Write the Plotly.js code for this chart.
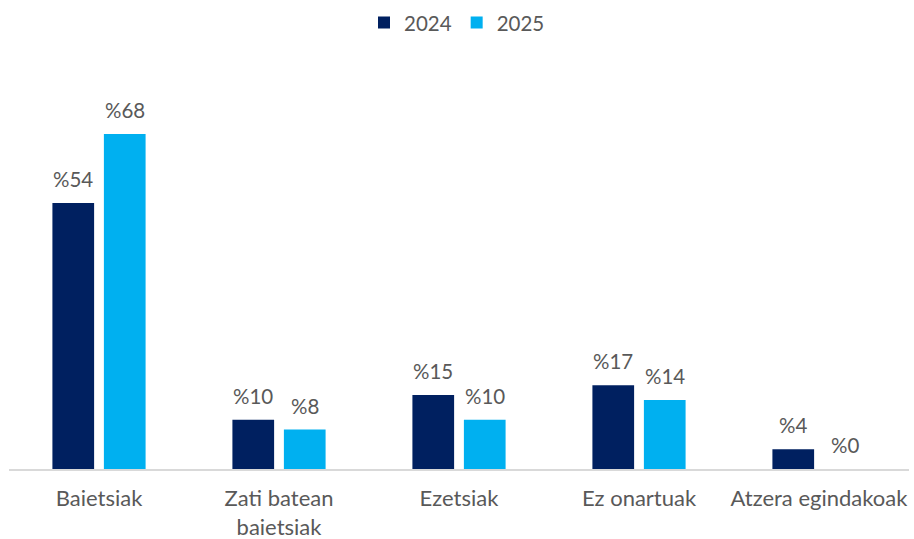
<!DOCTYPE html>
<html>
<head>
<meta charset="utf-8">
<script src="https://cdn.plot.ly/plotly-3.0.1.min.js"></script>
<style>html,body{margin:0;padding:0;background:#fff;}#chart{width:914px;height:539px;}</style>
</head>
<body>
<div id="chart"></div>
<script>
const categories = ["Baietsiak", "Zati batean<br>baietsiak", "Ezetsiak", "Ez onartuak", "Atzera egindakoak"];
const seriesNames = ["2024", "2025"];
const values2024 = [54, 10, 15, 17, 4];
const values2025 = [68, 8, 10, 14, 0];

const colors = ["#002060", "#00B0F0"];
const allValues = [values2024, values2025];
const fontFamily = "Lato, 'Liberation Sans', sans-serif";
const textColor = "#595959";

const traces = allValues.map((vals, s) => ({
  type: "bar",
  name: seriesNames[s],
  x: categories,
  y: vals,
  marker: {color: colors[s], line: {width: 0}},
  hoverinfo: "skip"
}));

const slot = 51.5;
const annotations = [];
allValues.forEach((vals, s) => {
  vals.forEach((v, i) => {
    annotations.push({
      x: categories[i], y: v, xref: "x", yref: "y",
      text: "%" + v, showarrow: false,
      yanchor: "bottom", xanchor: "center",
      xshift: (s === 0 ? -1 : 1) * slot / 2,
      yshift: 10,
      font: {family: fontFamily, size: 20.5, color: textColor}
    });
  });
});

const layout = {
  width: 914, height: 539,
  margin: {l: 9, r: 5, t: 60, b: 70},
  paper_bgcolor: "#fff", plot_bgcolor: "#fff",
  barmode: "group",
  bargap: 0.428,
  bargroupgap: 0.19,
  font: {family: fontFamily, size: 20.5, color: textColor},
  showlegend: true,
  legend: {
    orientation: "h", x: 0.5, xanchor: "center", xref: "container",
    y: 0.995, yanchor: "top", yref: "container",
    font: {family: fontFamily, size: 20.5, color: textColor},
    itemwidth: 30, tracegroupgap: 0
  },
  xaxis: {
    type: "category",
    showline: true, linecolor: "#D9D9D9", linewidth: 1.5,
    showgrid: false, zeroline: false, ticks: "",
    ticklabelstandoff: 9,
    tickfont: {family: fontFamily, size: 22, color: textColor}
  },
  yaxis: {
    range: [0, 83], showgrid: false, zeroline: false, showline: false,
    showticklabels: false, ticks: ""
  },
  annotations: annotations
};

Plotly.newPlot("chart", traces, layout, {displayModeBar: false, staticPlot: true});
</script>
</body>
</html>
